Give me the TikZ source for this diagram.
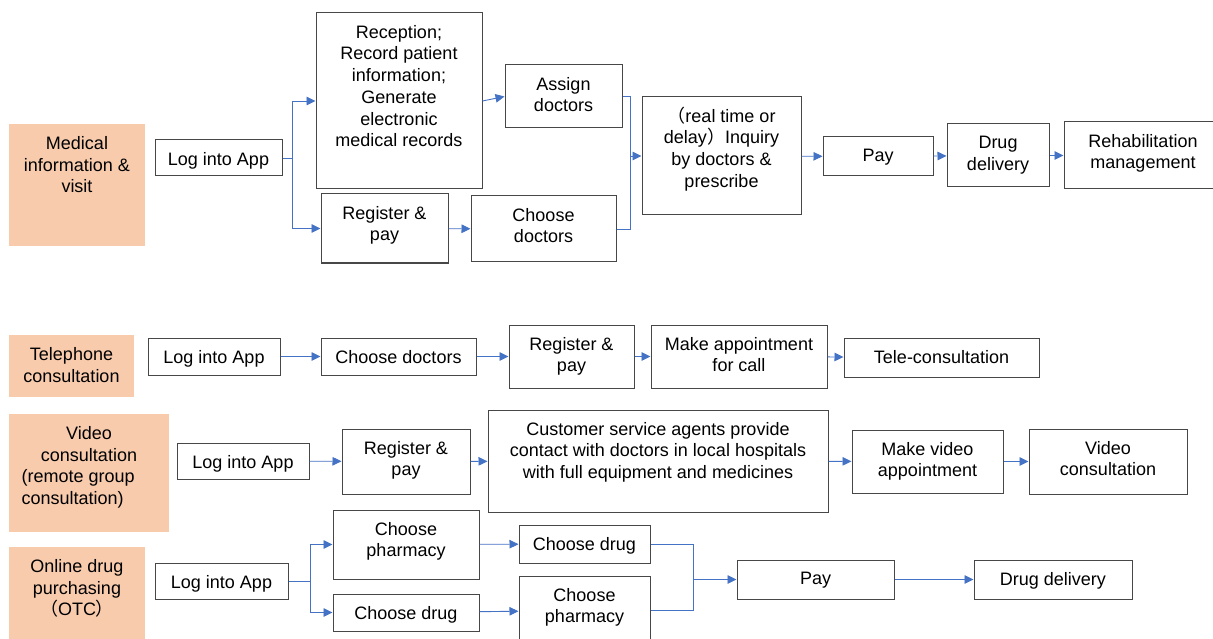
\documentclass[tikz,border=0pt]{standalone}
\usepackage{fontspec}
\setmainfont{Liberation Sans}
\newfontfamily\cjk{Noto Sans CJK SC}
\usepackage{tikz}
\usetikzlibrary{arrows.meta}
\usetikzlibrary{fit}
\definecolor{flowblue}{RGB}{68,114,196}
\definecolor{peach}{RGB}{248,203,173}

\begin{document}
\begin{tikzpicture}[x=1pt,y=-1pt]
    \tikzset{stepbox/.style={draw=black!72, line width=1pt, inner sep=0pt},
             groupbox/.style={fill=peach, inner sep=0pt},
             steptext/.style={anchor=north, align=center, inner sep=0pt, yshift=-12.5pt,
                              font=\fontsize{18}{21.7}\selectfont},
             flow/.style={flowblue, line width=0.9pt, -{Triangle[length=9pt,width=8.5pt]}},
             link/.style={flowblue, line width=0.9pt}}
    \useasboundingbox (0,0) rectangle (1213,639);

    % x-offsets of the branching points
    \def\splitA{10}
    \def\splitB{22}

    % medical information & visit
    \node[groupbox, fit={(9,124) (145,246)}, label={[steptext]north:{Medical\\information \&\\visit}}] (med) {};
    \node[stepbox, fit={(155,140) (282,176)}, label={[steptext]north:{Log into App}}] (log1) {};
    \node[stepbox, fit={(316,13) (482,189)}, label={[steptext]north:{Reception;\\Record patient\\information;\\Generate\\electronic\\medical records}}] (rec) {};
    \node[stepbox, fit={(505,65) (622,128)}, label={[steptext]north:{Assign\\doctors}}] (asg) {};
    \node[stepbox, fit={(321,194) (448,263)}, label={[steptext]north:{Register \&\\pay}}] (reg1) {};
    \node[stepbox, fit={(471,196) (616,262)}, label={[steptext]north:{Choose\\doctors}}] (chd1) {};
    \node[stepbox, fit={(642,97) (801,215)}, label={[steptext]north:{\smash{\cjk （}real time or\\delay{\cjk ）}Inquiry\\by doctors \&\\prescribe}}] (inq) {};
    \node[stepbox, fit={(823,137) (933,176)}, label={[steptext]north:{Pay}}] (pay1) {};
    \node[stepbox, fit={(947,124) (1049,187)}, label={[steptext]north:{Drug\\delivery}}] (dlv1) {};
    \node[stepbox, fit={(1064,122) (1222,189)}, label={[steptext]north:{Rehabilitation\\management}}] (reh) {};

    \draw[flow] (log1.east) -- ++(\splitA,0) |- (rec.west);
    \draw[flow] (log1.east) -- ++(\splitA,0) |- (reg1.west);
    \draw[flow] (rec.east) -- (asg.west);
    \draw[flow] (reg1) -- (chd1);
    \coordinate (j1) at (630,156);
    \draw[link] (asg.east) -| (j1);
    \draw[link] (chd1.east) -| (j1);
    \draw[flow] (j1) -- (inq.west);
    \draw[flow] (inq) -- (pay1);
    \draw[flow] (pay1) -- (dlv1);
    \draw[flow] (dlv1) -- (reh);

    % telephone consultation
    \node[groupbox, fit={(9,335) (134,397)}, label={[steptext]north:{Telephone\\consultation}}] (tel) {};
    \node[stepbox, fit={(148,338) (280,375)}, label={[steptext]north:{Log into App}}] (log2) {};
    \node[stepbox, fit={(321,338) (476,375)}, label={[steptext]north:{Choose doctors}}] (chd2) {};
    \node[stepbox, fit={(509,325) (634,388)}, label={[steptext]north:{Register \&\\pay}}] (reg2) {};
    \node[stepbox, fit={(651,325) (827,388)}, label={[steptext]north:{Make appointment\\for call}}] (app2) {};
    \node[stepbox, fit={(844,338) (1039,377)}, label={[steptext]north:{Tele-consultation}}] (tcon) {};

    \draw[flow] (log2) -- (chd2);
    \draw[flow] (chd2) -- (reg2);
    \draw[flow] (reg2) -- (app2);
    \draw[flow] (app2) -- (tcon);

    % video consultation
    \node[groupbox, fit={(9,414) (169,532)}, label={[steptext]north:{Video\\consultation\\\makebox[0pt][l]{\hspace*{-67.3pt}(remote group}\\\makebox[0pt][l]{\hspace*{-67.3pt}consultation)}}}] (vid) {};
    \node[stepbox, fit={(177,443) (309,479)}, label={[steptext]north:{Log into App}}] (log3) {};
    \node[stepbox, fit={(342,429) (470,494)}, label={[steptext]north:{Register \&\\pay}}] (reg3) {};
    \node[stepbox, fit={(488,410) (828,512)}, label={[steptext]north:{Customer service agents provide\\contact with doctors in local hospitals\\with full equipment and medicines}}] (csa) {};
    \node[stepbox, fit={(852,430) (1003,493)}, label={[steptext]north:{Make video\\appointment}}] (mva) {};
    \node[stepbox, fit={(1029,429) (1187,494)}, label={[steptext]north:{Video\\consultation}}] (vcon) {};

    \draw[flow] (log3) -- (reg3);
    \draw[flow] (reg3) -- (csa);
    \draw[flow] (csa) -- (mva);
    \draw[flow] (mva) -- (vcon);

    % online drug purchasing
    \node[groupbox, fit={(9,547) (145,645)}, label={[steptext]north:{Online drug\\purchasing\\{\cjk （}OTC{\cjk ）}}}] (otc) {};
    \node[stepbox, fit={(155,563) (288,599)}, label={[steptext]north:{Log into App}}] (log4) {};
    \node[stepbox, fit={(333,510) (479,579)}, label={[steptext]north:{Choose\\pharmacy}}] (pha4) {};
    \node[stepbox, fit={(333,594) (479,631)}, label={[steptext]north:{Choose drug}}] (drg4) {};
    \node[stepbox, fit={(519,525) (650,563)}, label={[steptext]north:{Choose drug}}] (drg5) {};
    \node[stepbox, fit={(519,576) (650,645)}, label={[steptext]north:{Choose\\pharmacy}}] (pha5) {};
    \node[stepbox, fit={(737,560) (894,599)}, label={[steptext]north:{Pay}}] (pay4) {};
    \node[stepbox, fit={(974,560) (1132,599)}, label={[steptext]north:{Drug delivery}}] (dlv4) {};

    \draw[flow] (log4.east) -- ++(\splitB,0) |- (pha4.west);
    \draw[flow] (log4.east) -- ++(\splitB,0) |- (drg4.west);
    \draw[flow] (pha4) -- (drg5);
    \draw[flow] (drg4) -- (pha5);
    \coordinate (j4) at (693,579.5);
    \draw[link] (drg5.east) -| (j4);
    \draw[link] (pha5.east) -| (j4);
    \draw[flow] (j4) -- (pay4.west);
    \draw[flow] (pay4) -- (dlv4);
\end{tikzpicture}
\end{document}
